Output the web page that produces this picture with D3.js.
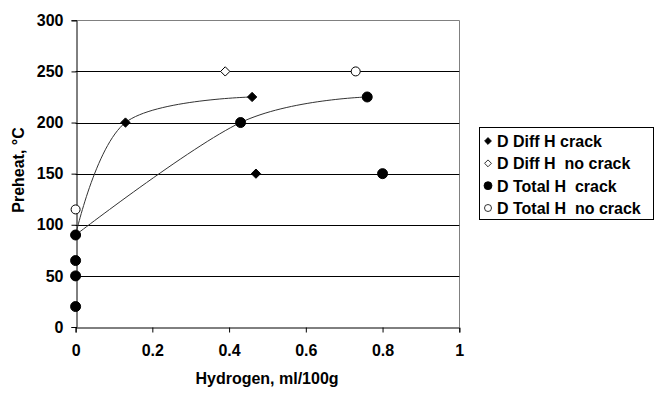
<!DOCTYPE html>
<html>
<head>
<meta charset="utf-8">
<script src="https://cdn.jsdelivr.net/npm/d3@7"></script>
<style>
  body { margin: 0; background: #fff; }
  svg { font-family: Arial, "Liberation Sans", sans-serif; font-weight: bold; }
</style>
</head>
<body>
<svg id="chart" width="661" height="394"></svg>
<script>
// data
const diffCrackLine = [[0, 90], [0.13, 200], [0.46, 225]];
const diffCrackOnly = [[0.47, 150]];
const diffNoCrack = [[0.39, 250]];
const totalCrackLine = [[0, 90], [0.43, 200], [0.76, 225]];
const totalCrackOnly = [[0.8, 150], [0, 65], [0, 50], [0, 20]];
const totalNoCrack = [[0.73, 250], [0, 115]];

const xTicks = [0, 0.2, 0.4, 0.6, 0.8, 1];
const yTicks = [0, 50, 100, 150, 200, 250, 300];
const legendLabels = ['D Diff H crack', 'D Diff H  no crack', 'D Total H  crack', 'D Total H  no crack'];

const svg = d3.select('#chart');
const x = d3.scaleLinear().domain([0, 1]).range([75.6, 459.3]);
const y = d3.scaleLinear().domain([0, 300]).range([327, 20.3]);

// plot border (gray, top and right)
svg.append('path')
    .attr('d', `M${x(0)},${Math.round(y(300)) + 0.5}H${Math.round(x(1)) + 0.5}V${y(0)}`)
    .attr('fill', 'none').attr('stroke', '#808080').attr('stroke-width', 1);

// gridlines
svg.append('g').selectAll('line')
    .data(yTicks.filter(d => d > 0 && d < 300))
    .join('line')
    .attr('x1', x(0)).attr('x2', x(1))
    .attr('y1', d => Math.round(y(d)) + 0.5).attr('y2', d => Math.round(y(d)) + 0.5)
    .attr('stroke', '#000').attr('stroke-width', 1);

// axes
const xAxis = svg.append('g')
    .attr('transform', `translate(0,${Math.round(y(0)) + 0.5})`)
    .call(d3.axisBottom(x).tickValues(xTicks).tickSize(5).tickPadding(12).tickFormat(d3.format('')));
const yAxis = svg.append('g')
    .attr('transform', `translate(${Math.round(x(0)) + 0.5},0)`)
    .call(d3.axisLeft(y).tickValues(yTicks).tickSize(5).tickPadding(8));

[xAxis, yAxis].forEach(g => {
    g.select('.domain').attr('stroke', '#000');
    g.selectAll('.tick line').attr('stroke', '#000');
    g.selectAll('text').attr('font-size', 16).attr('font-weight', 'bold')
        .attr('font-family', 'Arial, "Liberation Sans", sans-serif').attr('fill', '#000');
});

// axis titles
svg.append('text')
    .attr('x', 267).attr('y', 384)
    .attr('text-anchor', 'middle').attr('font-size', 16)
    .text('Hydrogen, ml/100g');
svg.append('text')
    .attr('transform', 'translate(24,170) rotate(-90)')
    .attr('text-anchor', 'middle').attr('font-size', 16)
    .text('Preheat, °C');

// smoothed lines
const line = d3.line()
    .x(d => x(d[0])).y(d => y(d[1]))
    .curve(d3.curveCardinal.tension(0));

[diffCrackLine, totalCrackLine].forEach(data => {
    svg.append('path')
        .datum(data)
        .attr('d', line)
        .attr('fill', 'none')
        .attr('stroke', '#333')
        .attr('stroke-width', 1);
});

// markers
const diamond = d3.symbol().type(d3.symbolDiamond2).size(55);

function diamonds(data, filled) {
    svg.append('g').selectAll('path')
        .data(data)
        .join('path')
        .attr('d', diamond)
        .attr('transform', d => `translate(${x(d[0])},${y(d[1])})`)
        .attr('fill', filled ? '#000' : '#fff')
        .attr('stroke', '#000').attr('stroke-width', 1);
}

function circles(data, filled, r) {
    svg.append('g').selectAll('circle')
        .data(data)
        .join('circle')
        .attr('cx', d => x(d[0])).attr('cy', d => y(d[1]))
        .attr('r', r)
        .attr('fill', filled ? '#000' : '#fff')
        .attr('stroke', '#000').attr('stroke-width', 1);
}

diamonds(diffCrackLine, true);
diamonds(diffCrackOnly, true);
diamonds(diffNoCrack, false);
circles(totalCrackLine, true, 5);
circles(totalCrackOnly, true, 5);
circles(totalNoCrack, false, 4.5);

// legend
const legend = svg.append('g');
legend.append('rect')
    .attr('x', 479.5).attr('y', 127.5).attr('width', 174).attr('height', 92)
    .attr('fill', '#fff').attr('stroke', '#000').attr('stroke-width', 1);

const legendY = d3.scalePoint().domain(legendLabels).range([141, 208]);
const smallDiamond = d3.symbol().type(d3.symbolDiamond2).size(30);

legendLabels.forEach((label, i) => {
    const cy = legendY(label);
    if (i < 2) {
        legend.append('path')
            .attr('d', smallDiamond)
            .attr('transform', `translate(488,${cy})`)
            .attr('fill', i === 0 ? '#000' : '#fff')
            .attr('stroke', '#000').attr('stroke-width', 0.8);
    } else {
        legend.append('circle')
            .attr('cx', 488).attr('cy', cy).attr('r', i === 2 ? 4 : 3.5)
            .attr('fill', i === 2 ? '#000' : '#fff')
            .attr('stroke', '#000').attr('stroke-width', 0.8);
    }
    legend.append('text')
        .attr('x', 497).attr('y', cy + 6)
        .attr('font-size', 16)
        .style('white-space', 'pre')
        .text(label);
});
</script>
</body>
</html>
